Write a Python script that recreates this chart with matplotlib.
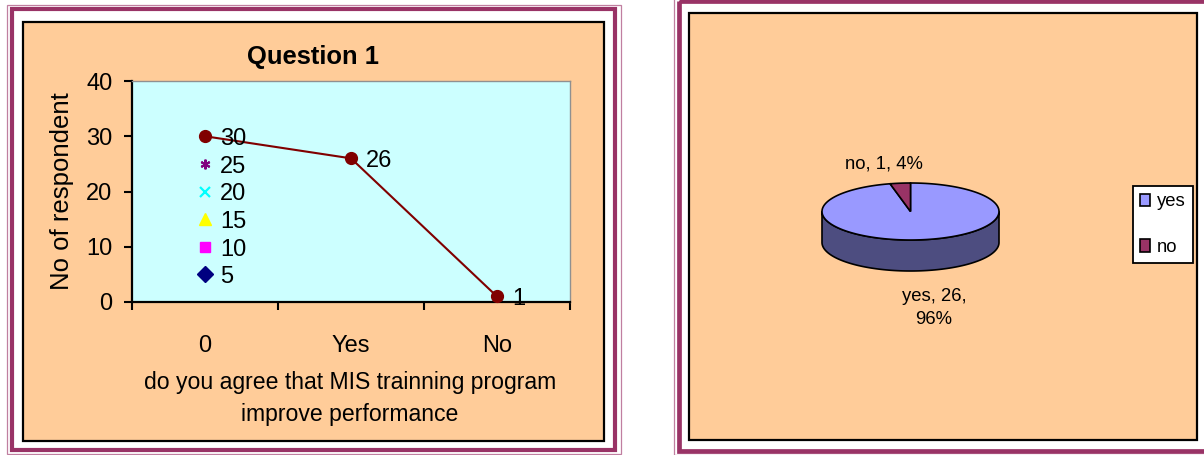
import numpy as np
import matplotlib
matplotlib.use('Agg')
import matplotlib.pyplot as plt
from matplotlib.patches import Rectangle, Polygon
from matplotlib import font_manager

# ---------------- data ----------------
categories = ['0', 'Yes', 'No']
main_values = [30, 26, 1]
extra_values = [5, 10, 15, 20, 25]          # single points drawn at category '0'
pie_labels = ['yes', 'no']
pie_values = [26, 1]

title_text = 'Question 1'
ylabel_text = 'No of respondent'
xlabel_text = 'do you agree that MIS trainning program\nimprove performance'

# ---------------- styles ----------------
names = {f.name for f in font_manager.fontManager.ttflist}
FONT = 'Liberation Sans' if 'Liberation Sans' in names else 'DejaVu Sans'
plt.rcParams['font.family'] = [FONT, 'DejaVu Sans']

W, H = 1204, 455
def fx(px): return px / W
def fy(py): return 1 - py / H

ORANGE = '#FFCC99'
CYAN = '#CCFFFF'
PURPLE = '#993366'
THIN = '#C07FA0'

fig = plt.figure(figsize=(W / 100, H / 100), dpi=100)
fig.patch.set_facecolor('white')

# background / frames (decoration in pixel space)
bg = fig.add_axes([0, 0, 1, 1])
bg.set_xlim(0, W); bg.set_ylim(H, 0); bg.axis('off')
# left panel frames
bg.add_patch(Rectangle((7, 4.5), 614, 449.5, fill=False, ec=THIN, lw=0.9))
bg.add_patch(Rectangle((12, 9), 603, 441, fill=False, ec=PURPLE, lw=3.0))
bg.add_patch(Rectangle((23, 22), 581, 419, fc=ORANGE, ec='black', lw=1.6))
# right panel frames
bg.add_patch(Rectangle((674, -3), 560, 457.5, fill=False, ec=THIN, lw=0.9))
bg.add_patch(Rectangle((678.5, 1.2), 560, 449.8, fill=False, ec=PURPLE, lw=3.4))
bg.add_patch(Rectangle((689, 13), 508, 427, fc=ORANGE, ec='black', lw=1.6))

# ---------------- left: line chart ----------------
ax = fig.add_axes([fx(132), fy(302), (570 - 132) / W, (302 - 81) / H])
ax.set_facecolor(CYAN)
x = np.arange(len(categories))
ax.plot(x, main_values, color='#800000', lw=1.5, marker='o', ms=8.5,
        mfc='#800000', mec='#800000', zorder=4, clip_on=False)
extra_styles = [('D', '#000080', 8, 1.0), ('s', '#FF00FF', 7.5, 1.0),
                ('^', '#FFFF00', 9, 1.0), ('x', '#00FFFF', 6.5, 1.6),
                ((6, 2, 0), '#800080', 7, 1.5)]
for v, (m, c, s, mew) in zip(extra_values, extra_styles):
    ax.plot([0], [v], linestyle='none', marker=m, ms=s, color=c, mec=c, mew=mew, zorder=3)
LBL = 17
for xi, v in zip(x, main_values):
    ax.annotate(str(v), (xi, v), xytext=(11, -2), textcoords='offset points',
                ha='left', va='center', fontsize=LBL, zorder=5, annotation_clip=False)
for v in extra_values:
    ax.annotate(str(v), (0, v), xytext=(11, -2), textcoords='offset points',
                ha='left', va='center', fontsize=LBL, zorder=5)
ax.set_xlim(-0.5, len(categories) - 0.5)
ax.set_ylim(0, 40)
ax.set_yticks([0, 10, 20, 30, 40])
ax.set_xticks(np.arange(len(categories) + 1) - 0.5)
ax.set_xticklabels([])
ax.set_xticks(x, minor=True)
ax.set_xticklabels(categories, minor=True)
ax.tick_params(axis='x', which='major', direction='out', length=6, width=1.5, color='black')
ax.tick_params(axis='x', which='minor', length=0, pad=24, labelsize=LBL)
ax.tick_params(axis='y', direction='out', length=6, width=1.5, pad=8, labelsize=LBL)
for s in ['left', 'bottom']:
    ax.spines[s].set_color('black'); ax.spines[s].set_linewidth(1.6)
for s in ['top', 'right']:
    ax.spines[s].set_color('#909090'); ax.spines[s].set_linewidth(1.0)

fig.text(fx(313), fy(57), title_text, ha='center', va='center',
         fontsize=18.4, fontweight='bold')
fig.text(fx(62), fy(191), ylabel_text, rotation=90, ha='center', va='center', fontsize=18.5)
fig.text(fx(350), fy(399), xlabel_text, ha='center', va='center',
         fontsize=16.6, linespacing=1.5)

# ---------------- right: 3-D style pie ----------------
UNIT = 88.5          # px per unit radius
CX, CY = 910.5, 211.5
pax = fig.add_axes([fx(689), fy(440), 508 / W, 427 / H])
pax.set_xlim((689 - CX) / UNIT, (1197 - CX) / UNIT)
pax.set_ylim(-(440 - CY) / UNIT, (CY - 13) / UNIT)
pax.axis('off')
B = 28.5 / UNIT
DEPTH = 31 / UNIT
top_colors = ['#9999FF', '#993366']
side_colors = ['#4D4D80', '#4D1A33']

total = sum(pie_values)
angles = []
start = 90.0
for v in pie_values:
    sweep = 360.0 * v / total
    angles.append((start - sweep, start))   # clockwise from 12 o'clock
    start -= sweep

# sides (front half only)
for (t1, t2), c in zip(angles, side_colors):
    for k in range(-2, 2):
        a = max(t1, 180 + 360 * k)
        b = min(t2, 360 + 360 * k)
        if b > a:
            t = np.radians(np.linspace(a, b, 120))
            xs = np.cos(t); ys = B * np.sin(t)
            pts = np.concatenate([np.column_stack([xs, ys]),
                                  np.column_stack([xs[::-1], ys[::-1] - DEPTH])])
            pax.add_patch(Polygon(pts, closed=True, fc=c, ec='black', lw=1.2, zorder=2))

handles = []
for (t1, t2), c in zip(angles, top_colors):
    t = np.radians(np.linspace(t1, t2, 240))
    pts = np.vstack([[0, 0], np.column_stack([np.cos(t), B * np.sin(t)])])
    p = Polygon(pts, closed=True, fc=c, ec='black', lw=1.2, zorder=3)
    pax.add_patch(p)
    handles.append(p)

# data labels
label_offsets = [(9.5, -27), (-12, 14)]
for (t1, t2), name, v, off in zip(angles, pie_labels, pie_values, label_offsets):
    mid = np.radians((t1 + t2) / 2)
    ex, ey = np.cos(mid), B * np.sin(mid)
    if np.sin(mid) < 0:
        ey -= DEPTH
    pct = 100.0 * v / total
    txt = f'{name}, {v}, {pct:.0f}%' if pct < 50 else f'{name}, {v},\n{pct:.0f}%'
    pax.annotate(txt, (ex, ey), xytext=off, textcoords='offset points',
                 ha='center', va='center', fontsize=13.3, linespacing=1.45)

leg = fig.legend(handles, pie_labels, loc='upper left',
                 bbox_to_anchor=(fx(1133), fy(186)), fontsize=13.3, frameon=True,
                 fancybox=False, edgecolor='black', framealpha=1,
                 handlelength=0.5, handleheight=0.65, handletextpad=0.4,
                 labelspacing=1.55, borderpad=0.4, borderaxespad=0)
leg.get_frame().set_linewidth(1.3)

fig.savefig('out.png', dpi=100)
